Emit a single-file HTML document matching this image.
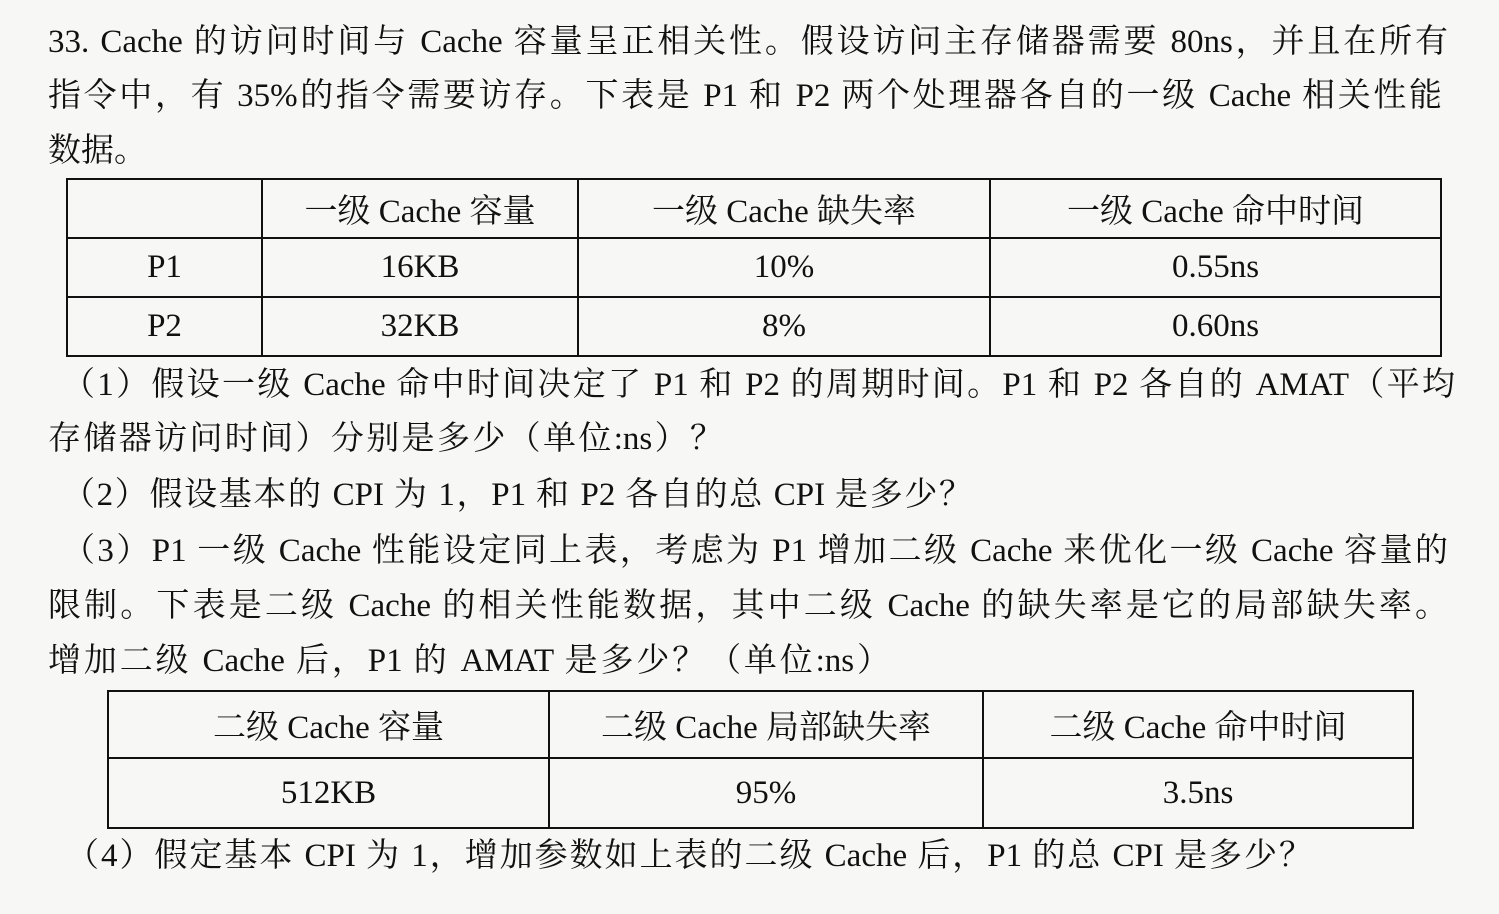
<!DOCTYPE html>
<html><head><meta charset="utf-8"><style>
body{margin:0;width:1499px;height:914px;background:#f7f7f5;overflow:hidden;position:relative;font-family:"Liberation Serif","Noto Serif CJK SC",serif;color:#111;}
.l{position:absolute;font-size:33px;line-height:40px;white-space:nowrap;}
.j{text-align:justify;text-align-last:justify;white-space:normal;}
table{position:absolute;border-collapse:collapse;font-size:33px;}
td{border:2.5px solid #111;text-align:center;padding:0;}
</style></head><body>
<div class="l j" style="left:48px;top:22px;width:1400px">33. Cache 的访问时间与 Cache 容量呈正相关性。假设访问主存储器需要 80ns，并且在所有</div>
<div class="l j" style="left:48px;top:76px;width:1394px">指令中，有 35%的指令需要访存。下表是 P1 和 P2 两个处理器各自的一级 Cache 相关性能</div>
<div class="l" style="left:48px;top:131px;">数据。</div>
<table style="left:66px;top:178px;width:1376px;height:178px">
<tr style="height:59px"><td style="width:193px"></td><td style="width:314px">一级 Cache 容量</td><td style="width:410px">一级 Cache 缺失率</td><td>一级 Cache 命中时间</td></tr>
<tr style="height:59px"><td>P1</td><td>16KB</td><td>10%</td><td>0.55ns</td></tr>
<tr style="height:59px"><td>P2</td><td>32KB</td><td>8%</td><td>0.60ns</td></tr>
</table>
<div class="l j" style="left:62px;top:365px;width:1393px">（1）假设一级 Cache 命中时间决定了 P1 和 P2 的周期时间。P1 和 P2 各自的 AMAT（平均</div>
<div class="l j" style="left:48px;top:419px;width:675px">存储器访问时间）分别是多少（单位:ns）？</div>
<div class="l j" style="left:62px;top:475px;width:910px">（2）假设基本的 CPI 为 1，P1 和 P2 各自的总 CPI 是多少？</div>
<div class="l j" style="left:62px;top:531px;width:1386px">（3）P1 一级 Cache 性能设定同上表，考虑为 P1 增加二级 Cache 来优化一级 Cache 容量的</div>
<div class="l j" style="left:48px;top:586px;width:1400px">限制。下表是二级 Cache 的相关性能数据，其中二级 Cache 的缺失率是它的局部缺失率。</div>
<div class="l j" style="left:48px;top:641px;width:842px">增加二级 Cache 后，P1 的 AMAT 是多少？（单位:ns）</div>
<table style="left:107px;top:690px;width:1307px;height:139px">
<tr style="height:67px"><td style="width:439px">二级 Cache 容量</td><td style="width:432px">二级 Cache 局部缺失率</td><td>二级 Cache 命中时间</td></tr>
<tr><td>512KB</td><td>95%</td><td>3.5ns</td></tr>
</table>
<div class="l j" style="left:66px;top:836px;width:1246px">（4）假定基本 CPI 为 1，增加参数如上表的二级 Cache 后，P1 的总 CPI 是多少？</div>
</body></html>
